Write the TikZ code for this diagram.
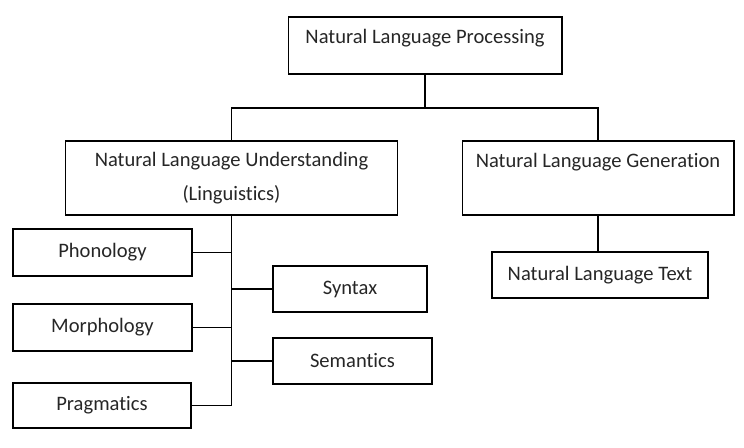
\documentclass[tikz,border=0pt]{standalone}
\usepackage{fontspec}
\setmainfont{Carlito}[Ligatures=NoCommon]
\usepackage{tikz}
\tikzset{box/.style={draw, line width=0.6pt, inner sep=0pt, text=black!85, font=\fontsize{11.7}{19}\selectfont}}
\tikzset{toptext/.style={text height=0.53cm, text depth=#1}}

\begin{document}
\begin{tikzpicture}[x=0.02cm, y=-0.02cm, line width=0.6pt]
    \useasboundingbox (0, 0) rectangle (744, 448);
    % top level
    \node [box, minimum width=5.48cm, toptext=0.61cm] (nlp) at (425, 45.5) {Natural Language Processing};
    \node [box, minimum width=6.66cm, minimum height=1.48cm, align=center] (nlu) at (231.5, 178) {Natural Language Understanding\\(Linguistics)};
    \node [box, minimum width=5.44cm, toptext=0.95cm] (nlg) at (598, 178) {Natural Language Generation};
    \node [box, minimum width=4.32cm, minimum height=0.92cm] (nlt) at (600, 275) {Natural Language Text};
    % linguistics
    \node [box, minimum width=3.58cm, minimum height=0.94cm] (phon) at (102.5, 252.5) {Phonology};
    \node [box, minimum width=3.58cm, minimum height=0.94cm] (morph) at (102.5, 327.5) {Morphology};
    \node [box, minimum width=3.56cm, minimum height=0.90cm] (prag) at (102, 405.5) {Pragmatics};
    \node [box, minimum width=3.08cm, minimum height=0.92cm] (syn) at (350, 289) {Syntax};
    \node [box, minimum width=3.18cm, minimum height=0.92cm] (sem) at (352.5, 361) {Semantics};
    \coordinate (split) at (nlp.south |- 0, 108);
    \draw (nlp) -- (split);
    \draw (nlu.north) |- (split) -| (nlg.north);
    \draw (nlg.south) -- (nlg.south |- nlt.north);
    \draw (nlu.south) -- (nlu.south |- prag.east) -- (prag.east);
    \foreach \branch in {phon, morph} {
        \draw (\branch.east) -- (\branch.east -| nlu.south);
    }
    \foreach \branch in {syn, sem} {
        \draw (\branch.west) -- (\branch.west -| nlu.south);
    }
\end{tikzpicture}
\end{document}
